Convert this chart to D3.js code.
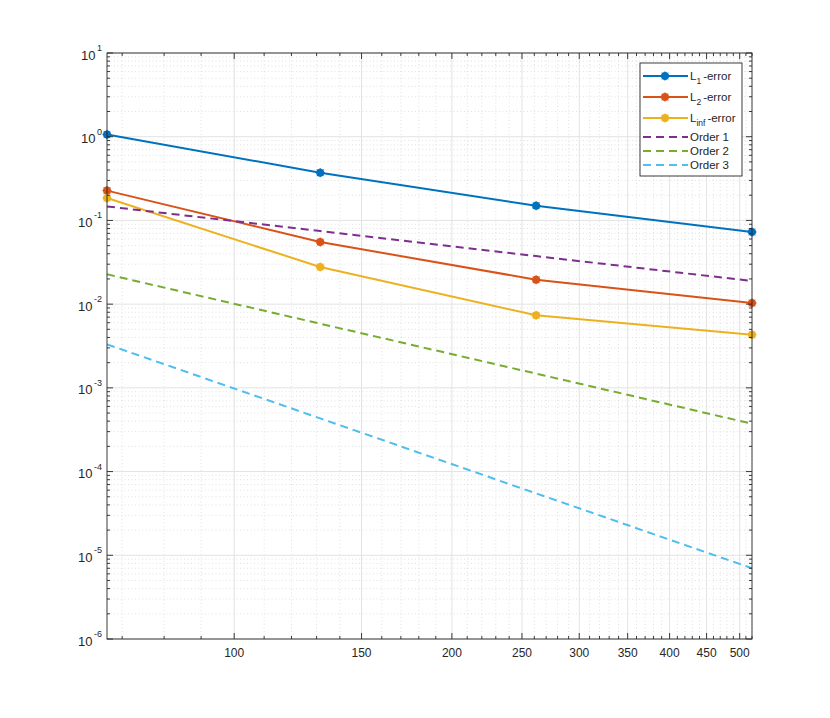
<!DOCTYPE html>
<html>
<head>
<meta charset="utf-8">
<script src="https://cdn.jsdelivr.net/npm/d3@7"></script>
<style>
  body { margin: 0; background: #fff; }
  text { font-family: "Liberation Sans", Arial, sans-serif; fill: #262626; }
</style>
</head>
<body>
<div id="chart"></div>
<script>
// values
var xValues = [66.7, 131.5, 261.5, 520];
var l1Error = [1.06, 0.372, 0.150, 0.0727];
var l2Error = [0.227, 0.0552, 0.0196, 0.0103];
var linfError = [0.185, 0.0278, 0.00735, 0.00432];
var order1 = [0.147, 0.0746, 0.0375, 0.0189];
var order2 = [0.0227, 0.00584, 0.00148, 0.000373];
var order3 = [0.00331, 0.000432, 0.0000549, 0.0000070];

var xTickLabels = [100, 150, 200, 250, 300, 350, 400, 450, 500];
var yTickExps = [-6, -5, -4, -3, -2, -1, 0, 1];

var series = [
  {name: "L", sub: "1", rest: "-error", values: l1Error, color: "#0072BD", marker: true},
  {name: "L", sub: "2", rest: "-error", values: l2Error, color: "#D95319", marker: true},
  {name: "L", sub: "inf", rest: "-error", values: linfError, color: "#EDB120", marker: true},
  {name: "Order 1", values: order1, color: "#7E2F8E", marker: false},
  {name: "Order 2", values: order2, color: "#77AC30", marker: false},
  {name: "Order 3", values: order3, color: "#4DBEEE", marker: false}
];

var width = 830, height = 718;
var margin = {top: 53, right: 78, bottom: 79, left: 107};

var svg = d3.select("#chart")
  .append("svg")
  .attr("width", width)
  .attr("height", height);

var x = d3.scaleLog()
  .domain([xValues[0], xValues[xValues.length - 1]])
  .range([margin.left, width - margin.right]);

var y = d3.scaleLog()
  .domain([1e-6, 10])
  .range([height - margin.bottom, margin.top]);

var x0 = margin.left, x1 = width - margin.right;
var y0 = height - margin.bottom, y1 = margin.top;

// minor tick positions
var xMinor = d3.range(70, 521, 10).filter(function(v){ return xTickLabels.indexOf(v) < 0; });
var yMinor = [];
yTickExps.slice(0, -1).forEach(function(e){
  for (var k = 2; k <= 9; k++) yMinor.push(k * Math.pow(10, e));
});
var yMajor = yTickExps.map(function(e){ return Math.pow(10, e); });

// grid
var grid = svg.append("g");
grid.selectAll(".xminor").data(xMinor).enter().append("line")
  .attr("x1", d => x(d)).attr("x2", d => x(d)).attr("y1", y0).attr("y2", y1)
  .attr("stroke", "#d4d4d4").attr("stroke-width", 0.7).attr("stroke-dasharray", "1,2.5");
grid.selectAll(".yminor").data(yMinor).enter().append("line")
  .attr("y1", d => y(d)).attr("y2", d => y(d)).attr("x1", x0).attr("x2", x1)
  .attr("stroke", "#d4d4d4").attr("stroke-width", 0.7).attr("stroke-dasharray", "1,2.5");
grid.selectAll(".xmajor").data(xTickLabels).enter().append("line")
  .attr("x1", d => x(d)).attr("x2", d => x(d)).attr("y1", y0).attr("y2", y1)
  .attr("stroke", "#e3e3e3").attr("stroke-width", 1);
grid.selectAll(".ymajor").data(yMajor).enter().append("line")
  .attr("y1", d => y(d)).attr("y2", d => y(d)).attr("x1", x0).attr("x2", x1)
  .attr("stroke", "#e3e3e3").attr("stroke-width", 1);

// series
var line = d3.line()
  .x(function(d, i){ return x(xValues[i]); })
  .y(function(d){ return y(d); });

var plot = svg.append("g");
series.forEach(function(s){
  plot.append("path")
    .datum(s.values)
    .attr("d", line)
    .attr("fill", "none")
    .attr("stroke", s.color)
    .attr("stroke-width", 2)
    .attr("stroke-dasharray", s.marker ? null : "8,5");
});

// filled circle with a small asterisk on top
function drawMarker(g, cx, cy, color){
  g.append("circle").attr("cx", cx).attr("cy", cy).attr("r", 4).attr("fill", color);
  var r = 4.6;
  var p = "M" + (cx - r) + "," + cy + "H" + (cx + r) +
          "M" + cx + "," + (cy - r) + "V" + (cy + r) +
          "M" + (cx - r * 0.7) + "," + (cy - r * 0.7) + "L" + (cx + r * 0.7) + "," + (cy + r * 0.7) +
          "M" + (cx - r * 0.7) + "," + (cy + r * 0.7) + "L" + (cx + r * 0.7) + "," + (cy - r * 0.7);
  g.append("path").attr("d", p).attr("stroke", color).attr("stroke-width", 1);
}

series.filter(function(s){ return s.marker; }).forEach(function(s){
  s.values.forEach(function(v, i){ drawMarker(plot, x(xValues[i]), y(v), s.color); });
});

// axes box and ticks (inward, all four sides)
var axes = svg.append("g").attr("stroke", "#262626").attr("stroke-width", 0.9);
axes.append("rect").attr("x", x0).attr("y", y1).attr("width", x1 - x0).attr("height", y0 - y1)
  .attr("fill", "none");

xTickLabels.forEach(function(v){
  axes.append("line").attr("x1", x(v)).attr("x2", x(v)).attr("y1", y0).attr("y2", y0 - 6);
  axes.append("line").attr("x1", x(v)).attr("x2", x(v)).attr("y1", y1).attr("y2", y1 + 6);
});
xMinor.forEach(function(v){
  axes.append("line").attr("x1", x(v)).attr("x2", x(v)).attr("y1", y0).attr("y2", y0 - 3);
  axes.append("line").attr("x1", x(v)).attr("x2", x(v)).attr("y1", y1).attr("y2", y1 + 3);
});
yMajor.forEach(function(v){
  axes.append("line").attr("y1", y(v)).attr("y2", y(v)).attr("x1", x0).attr("x2", x0 + 6);
  axes.append("line").attr("y1", y(v)).attr("y2", y(v)).attr("x1", x1).attr("x2", x1 - 6);
});
yMinor.forEach(function(v){
  axes.append("line").attr("y1", y(v)).attr("y2", y(v)).attr("x1", x0).attr("x2", x0 + 3);
  axes.append("line").attr("y1", y(v)).attr("y2", y(v)).attr("x1", x1).attr("x2", x1 - 3);
});

// x tick labels
svg.selectAll(".xlab").data(xTickLabels).enter().append("text")
  .attr("x", d => x(d)).attr("y", y0 + 18)
  .attr("text-anchor", "middle").attr("font-size", "12px")
  .text(d => d);

// y tick labels: 10 with superscript exponent
yTickExps.forEach(function(e){
  var yy = y(Math.pow(10, e));
  var ex = svg.append("text").attr("x", x0 - 5).attr("y", yy - 2)
    .attr("text-anchor", "end").attr("font-size", "9px").text(e);
  var w = ex.node().getComputedTextLength();
  svg.append("text").attr("x", x0 - 6.5 - w).attr("y", yy + 6.5)
    .attr("text-anchor", "end").attr("font-size", "13px").text("10");
});

// legend
var lg = svg.append("g");
var lgX = 640, lgY = 63, lgW = 102, lgH = 113;
lg.append("rect").attr("x", lgX).attr("y", lgY).attr("width", lgW).attr("height", lgH)
  .attr("fill", "#fff").attr("stroke", "#262626").attr("stroke-width", 0.9);
var rowY = [76, 97, 118, 137, 151, 165];
series.forEach(function(s, i){
  var ry = rowY[i];
  lg.append("line").attr("x1", lgX + 3).attr("x2", lgX + 48).attr("y1", ry).attr("y2", ry)
    .attr("stroke", s.color).attr("stroke-width", 2)
    .attr("stroke-dasharray", s.marker ? null : "8,5");
  if (s.marker) drawMarker(lg, lgX + 25, ry, s.color);
  var t = lg.append("text").attr("x", lgX + 50).attr("y", ry + 4).attr("font-size", "11.5px");
  if (s.sub) {
    t.append("tspan").text(s.name);
    t.append("tspan").attr("dy", 4).attr("font-size", "8.5px").text(s.sub);
    t.append("tspan").attr("dy", -4).attr("dx", 2).text(s.rest);
  } else {
    t.text(s.name);
  }
});
</script>
</body>
</html>
